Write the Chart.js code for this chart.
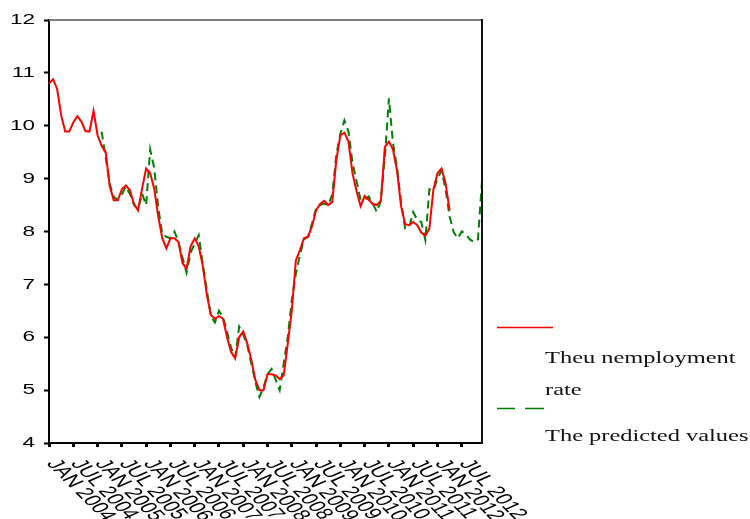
<!DOCTYPE html>
<html>
<head>
<meta charset="utf-8">
<script src="https://cdn.jsdelivr.net/npm/chart.js@4.4.1/dist/chart.umd.min.js"></script>
<style>
  html, body { margin: 0; padding: 0; background: #fff; }
  canvas { display: block; }
</style>
</head>
<body>
<canvas id="chart" width="750" height="519"></canvas>
<script>
// Monthly categories, JAN 2004 .. DEC 2012
const MONTHS = ['JAN', 'FEB', 'MAR', 'APR', 'MAY', 'JUN', 'JUL', 'AUG', 'SEP', 'OCT', 'NOV', 'DEC'];
const YEARS = [2004, 2005, 2006, 2007, 2008, 2009, 2010, 2011, 2012];
const categories = [];
YEARS.forEach(yr => MONTHS.forEach(m => categories.push(m + ' ' + yr)));

// Observed unemployment rate (%), one row per year
const unemploymentRate = [
  10.80, 10.88, 10.70, 10.20, 9.89, 9.89, 10.06, 10.18, 10.08, 9.90, 9.89, 10.28,
  9.82, 9.62, 9.50, 8.86, 8.59, 8.59, 8.80, 8.87, 8.78, 8.52, 8.40, 8.81,
  9.19, 9.10, 8.81, 8.28, 7.87, 7.68, 7.87, 7.87, 7.80, 7.40, 7.30, 7.72,
  7.87, 7.72, 7.35, 6.80, 6.42, 6.35, 6.40, 6.35, 6.00, 5.72, 5.60, 6.00,
  6.11, 5.88, 5.57, 5.19, 5.00, 5.00, 5.30, 5.30, 5.28, 5.21, 5.28, 5.88,
  6.51, 7.45, 7.65, 7.87, 7.90, 8.10, 8.40, 8.52, 8.58, 8.50, 8.56, 9.35,
  9.82, 9.87, 9.70, 9.10, 8.76, 8.48, 8.67, 8.60, 8.52, 8.50, 8.58, 9.60,
  9.70, 9.55, 9.15, 8.48, 8.14, 8.12, 8.18, 8.12, 7.98, 7.92, 8.06, 8.80,
  9.10, 9.19, 8.91, 8.40, null, null, null, null, null, null, null, null
];

// Model predictions (%), starting FEB 2005
const predictedValues = [
  null, null, null, null, null, null, null, null, null, null, null, null,
  null, 9.89, 9.40, 8.90, 8.65, 8.60, 8.70, 8.85, 8.71, 8.50, 8.42, 8.72,
  8.50, 9.55, 9.20, 8.45, 7.95, 7.90, 7.87, 8.00, 7.80, 7.50, 7.22, 7.60,
  7.77, 7.93, 7.38, 6.90, 6.40, 6.28, 6.50, 6.38, 6.10, 5.80, 5.62, 6.20,
  6.05, 5.85, 5.50, 5.15, 4.87, 5.05, 5.30, 5.40, 5.20, 5.00, 5.50, 6.00,
  6.70, 7.20, 7.55, 7.85, 7.90, 8.15, 8.44, 8.50, 8.53, 8.50, 8.70, 9.45,
  9.85, 10.10, 9.89, 9.30, 8.95, 8.60, 8.60, 8.66, 8.53, 8.37, 8.58, 9.40,
  10.52, 9.67, 9.22, 8.55, 8.06, 8.08, 8.37, 8.22, 8.18, 7.84, 8.80, 8.78,
  9.00, 9.15, 8.80, 8.28, 7.99, 7.87, 8.00, 7.95, 7.85, 7.80, 7.85, 8.95
];

const yTickValues = [4, 5, 6, 7, 8, 9, 10, 11, 12];
const seriesNames = ['Theu nemployment', 'rate', 'The predicted values'];

const RED = '#ff0000';
const GREEN = '#008000';
const STRETCH = 1.5;     // wide lettering used for all text
const SERIF_STRETCH = 1.48;

const decorations = {
  id: 'decorations',
  afterDraw(chart) {
    const { ctx, chartArea: a, scales: { x, y } } = chart;
    ctx.save();

    // frame: grey top edge, dark right edge
    ctx.lineWidth = 2;
    ctx.strokeStyle = '#7d7d7d';
    ctx.beginPath();
    ctx.moveTo(a.left, a.top);
    ctx.lineTo(a.right, a.top);
    ctx.stroke();
    ctx.strokeStyle = '#111';
    ctx.beginPath();
    ctx.moveTo(a.right, a.top - 1);
    ctx.lineTo(a.right, a.bottom);
    ctx.stroke();

    // y tick labels
    ctx.fillStyle = '#000';
    ctx.font = '15px "Liberation Sans", Arial, sans-serif';
    ctx.textAlign = 'right';
    ctx.textBaseline = 'middle';
    y.ticks.forEach(t => {
      ctx.save();
      ctx.translate(a.left - 14, y.getPixelForValue(t.value));
      ctx.scale(STRETCH, 1);
      ctx.fillText(String(t.value), 0, 0);
      ctx.restore();
    });

    // x tick labels, slanted down to the right
    ctx.font = '16px "Liberation Sans", Arial, sans-serif';
    ctx.textAlign = 'left';
    const ang = Math.atan(STRETCH);
    x.ticks.forEach((t, i) => {
      ctx.save();
      ctx.translate(x.getPixelForTick(i) + 2.5, a.bottom + 18);
      ctx.scale(STRETCH, 1);
      ctx.rotate(ang);
      ctx.fillText(x.getLabelForValue(t.value), 0, 0);
      ctx.restore();
    });

    // legend
    ctx.lineWidth = 1.5;
    ctx.strokeStyle = RED;
    ctx.beginPath();
    ctx.moveTo(497, 327.5);
    ctx.lineTo(553, 327.5);
    ctx.stroke();
    ctx.strokeStyle = GREEN;
    ctx.beginPath();
    ctx.moveTo(497, 408.5);
    ctx.lineTo(515, 408.5);
    ctx.moveTo(525, 408.5);
    ctx.lineTo(544, 408.5);
    ctx.stroke();

    ctx.fillStyle = '#111';
    ctx.font = '16.5px "Liberation Serif", "Times New Roman", serif';
    ctx.textBaseline = 'alphabetic';
    [[seriesNames[0], 363], [seriesNames[1], 395], [seriesNames[2], 441]].forEach(([txt, by]) => {
      ctx.save();
      ctx.translate(545, by);
      ctx.scale(SERIF_STRETCH, 1);
      ctx.fillText(txt, 0, 0);
      ctx.restore();
    });

    ctx.restore();
  }
};

new Chart(document.getElementById('chart'), {
  type: 'line',
  data: {
    labels: categories,
    datasets: [
      {
        label: seriesNames[0] + ' ' + seriesNames[1],
        data: unemploymentRate,
        borderColor: RED,
        borderWidth: 2,
        pointRadius: 0,
        tension: 0,
        fill: false
      },
      {
        label: seriesNames[2],
        data: predictedValues,
        borderColor: GREEN,
        borderWidth: 2,
        borderDash: [8, 5],
        pointRadius: 0,
        tension: 0,
        fill: false
      }
    ]
  },
  options: {
    responsive: false,
    animation: false,
    devicePixelRatio: 1,
    layout: { padding: { top: 20, right: 268, left: 0, bottom: 0 } },
    plugins: { legend: { display: false }, tooltip: { enabled: false } },
    scales: {
      x: {
        type: 'category',
        afterBuildTicks: s => { s.ticks = s.ticks.filter(t => t.value % 6 === 0); },
        afterFit: s => { s.height = 76; },
        ticks: { display: false, autoSkip: false },
        grid: {
          display: true, drawOnChartArea: false, drawTicks: true,
          tickLength: 4, tickWidth: 3, color: '#000', tickColor: '#000'
        },
        border: { display: true, color: '#000', width: 2 }
      },
      y: {
        type: 'linear',
        min: 4,
        max: 12,
        afterBuildTicks: s => { s.ticks = yTickValues.map(v => ({ value: v })); },
        afterFit: s => { s.width = 49; },
        ticks: { display: false },
        grid: {
          display: true, drawOnChartArea: false, drawTicks: true,
          tickLength: 5, tickWidth: 2, color: '#000', tickColor: '#000'
        },
        border: { display: true, color: '#000', width: 2 }
      }
    }
  },
  plugins: [decorations]
});
</script>
</body>
</html>
